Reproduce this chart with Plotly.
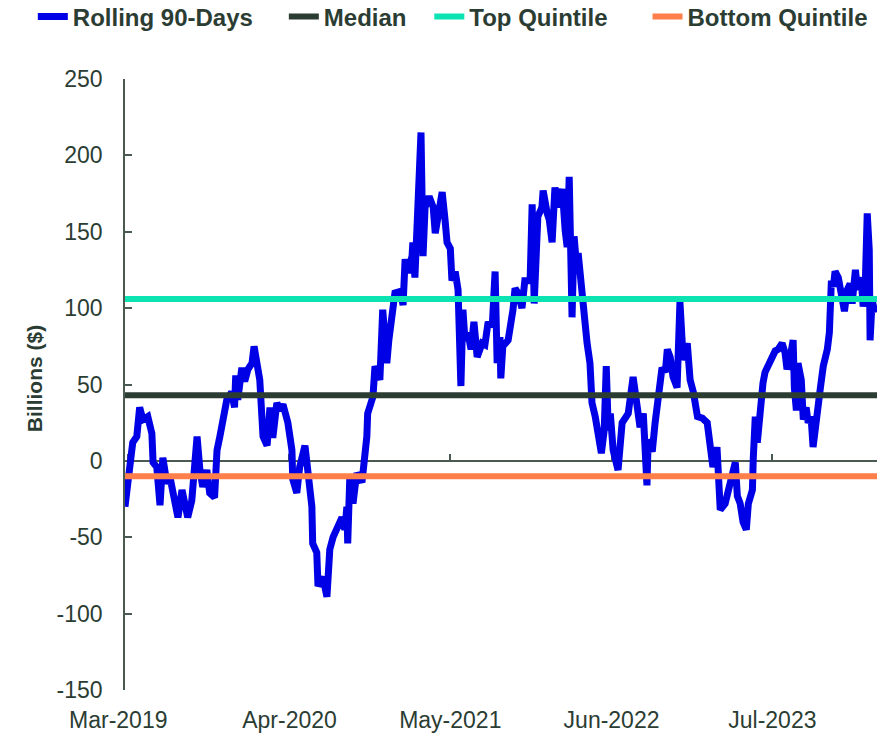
import plotly.graph_objects as go

# ------------------------------------------------------------
# Data ($ billions)
# ------------------------------------------------------------
dates = [
    "2019-02-22", "2019-03-01", "2019-03-06", "2019-03-13", "2019-03-23", "2019-03-30",
    "2019-04-07", "2019-04-19", "2019-04-29", "2019-05-02", "2019-05-11", "2019-05-19",
    "2019-05-26", "2019-06-05", "2019-06-12", "2019-06-20", "2019-07-02", "2019-07-12",
    "2019-07-19", "2019-07-26", "2019-08-05", "2019-08-13", "2019-08-18", "2019-08-25",
    "2019-09-01", "2019-09-11", "2019-09-18", "2019-09-30", "2019-10-06", "2019-10-13",
    "2019-10-20", "2019-10-30", "2019-11-11", "2019-11-18", "2019-11-21", "2019-11-26",
    "2019-12-06", "2019-12-13", "2019-12-21", "2019-12-31",
    "2020-01-05", "2020-01-12", "2020-01-19", "2020-01-27", "2020-02-06", "2020-02-13",
    "2020-02-20", "2020-03-01", "2020-03-08", "2020-03-16", "2020-03-28", "2020-04-07",
    "2020-04-09", "2020-04-19", "2020-04-26", "2020-05-09", "2020-05-16", "2020-05-26",
    "2020-05-28", "2020-06-07", "2020-06-10", "2020-06-22", "2020-07-02", "2020-07-09",
    "2020-07-17", "2020-07-29", "2020-08-08", "2020-08-15", "2020-08-20", "2020-08-22",
    "2020-08-27", "2020-09-04", "2020-09-13", "2020-09-26", "2020-10-03", "2020-10-08",
    "2020-10-10", "2020-10-23", "2020-10-28", "2020-11-09", "2020-11-16", "2020-11-26",
    "2020-12-01", "2020-12-09", "2020-12-16", "2020-12-29",
    "2021-01-05", "2021-01-10", "2021-01-17", "2021-01-27", "2021-01-29", "2021-02-03",
    "2021-02-08", "2021-02-10", "2021-02-18", "2021-02-23", "2021-02-28", "2021-03-10",
    "2021-03-20", "2021-03-25", "2021-04-01", "2021-04-11", "2021-04-18", "2021-04-23",
    "2021-05-01", "2021-05-05", "2021-05-13", "2021-05-20", "2021-05-27", "2021-06-01",
    "2021-06-06", "2021-06-13", "2021-06-21", "2021-06-28", "2021-07-06", "2021-07-18",
    "2021-07-25", "2021-08-02", "2021-08-12", "2021-08-19", "2021-08-24", "2021-08-31",
    "2021-09-02", "2021-09-07", "2021-09-20", "2021-09-25", "2021-10-02", "2021-10-07",
    "2021-10-14", "2021-10-24", "2021-10-31", "2021-11-13", "2021-11-18", "2021-11-23",
    "2021-11-30", "2021-12-02", "2021-12-12", "2021-12-15", "2021-12-25", "2021-12-30",
    "2022-01-06", "2022-01-13", "2022-01-21", "2022-01-31", "2022-02-07", "2022-02-12",
    "2022-02-17", "2022-02-24", "2022-03-01", "2022-03-08", "2022-03-11", "2022-03-21",
    "2022-03-28", "2022-04-02", "2022-04-09", "2022-04-14", "2022-04-22", "2022-04-29",
    "2022-05-07", "2022-05-14", "2022-05-19", "2022-05-24", "2022-05-29", "2022-06-05",
    "2022-06-17", "2022-06-27", "2022-07-04", "2022-07-12", "2022-07-24", "2022-08-03",
    "2022-08-10", "2022-08-18", "2022-08-22", "2022-08-27", "2022-08-30", "2022-09-09",
    "2022-09-16", "2022-09-23", "2022-10-03", "2022-10-11", "2022-10-16", "2022-10-23",
    "2022-10-30", "2022-11-09", "2022-11-11", "2022-11-16", "2022-11-24", "2022-12-04",
    "2022-12-11", "2022-12-19", "2022-12-29",
    "2023-01-10", "2023-01-22", "2023-01-30", "2023-02-05", "2023-02-15", "2023-02-23",
    "2023-03-07", "2023-03-14", "2023-03-24", "2023-04-01", "2023-04-06", "2023-04-13",
    "2023-04-20", "2023-04-28", "2023-05-03", "2023-05-13", "2023-05-15", "2023-05-20",
    "2023-05-25", "2023-06-01", "2023-06-08", "2023-06-13", "2023-06-21", "2023-07-01",
    "2023-07-08", "2023-07-15", "2023-07-25", "2023-08-01", "2023-08-06", "2023-08-14",
    "2023-08-21", "2023-08-24", "2023-08-29", "2023-09-02", "2023-09-10", "2023-09-15",
    "2023-09-22", "2023-09-27", "2023-10-04", "2023-10-09", "2023-10-14", "2023-10-22",
    "2023-10-27", "2023-11-03", "2023-11-13", "2023-11-18", "2023-11-23", "2023-11-28",
    "2023-12-02", "2023-12-10", "2023-12-20", "2023-12-25",
    "2024-01-01", "2024-01-08", "2024-01-13", "2024-01-21", "2024-01-26", "2024-02-04",
    "2024-02-09", "2024-02-14", "2024-02-19", "2024-02-24", "2024-02-26", "2024-03-02",
    "2024-03-09",
]

rolling_90d = [
    -30, -17, -1, 12, 16, 35,
    27, 29, 18, -1, -4, -29,
    2, -15, -10, -21, -37, -19,
    -30, -37, -26, -4, 16, -6,
    -17, -6, -21, -24, 7, 16,
    29, 40, 45, 35, 56, 40,
    61, 52, 60, 64,
    75, 63, 53, 16, 10, 35,
    15, 38, 33, 37, 25, 7,
    -12, -21, -4, 10, -6, -30,
    -54, -60, -82, -76, -89, -58,
    -50, -43, -37, -45, -30, -54,
    -12, -28, -8, -14, 1, 16,
    31, 42, 62, 53, 99, 64,
    79, 101, 110, 111,
    102, 132, 123, 134, 143, 120,
    160, 145, 215, 134, 166, 173,
    166, 149, 160, 176, 158, 143,
    139, 118, 124, 112, 49, 99,
    79, 84, 73, 91, 68, 77,
    76, 91, 88, 124, 64, 81,
    54, 75, 79, 86, 99, 113,
    110, 100, 118, 118, 168, 103,
    136, 160, 166, 177, 162, 158,
    143, 179, 166, 178, 151, 140,
    186, 94, 147, 125, 136, 110,
    81, 77, 64, 38, 29, 15,
    5, 20, 62, 20, 31, 7,
    -6, 25, 29, 31, 55, 38,
    22, 31, 9, -16, 14, 6,
    25, 42, 61, 58, 73, 68,
    55, 48, 60, 104, 66, 77,
    53, 45, 29,
    28, 25, 3, -4, 9, -32,
    -28, -21, -10, -1, -23, -28,
    -40, -45, -28, -19, 1, 29,
    12, 38, 51, 58, 62, 68,
    72, 73, 77, 71, 60, 68,
    79, 48, 33, 64, 53, 27,
    35, 25, 29, 9, 18, 33,
    48, 62, 73, 84, 118, 114,
    124, 120, 107, 98,
    112, 116, 103, 125, 112, 120,
    101, 114, 162, 138, 79, 105,
    97,
]

median_level = 43
top_quintile = 106
bottom_quintile = -10

x_range = ["2019-02-22", "2024-03-14"]
tick_dates = ["2019-03-01", "2020-04-01", "2021-05-01", "2022-06-01", "2023-07-01"]
tick_labels = ["Mar-2019", "Apr-2020", "May-2021", "Jun-2022", "Jul-2023"]
y_ticks = [-150, -100, -50, 0, 50, 100, 150, 200, 250]

# colours
BLUE = "#0000E6"
DARK = "#2B3D33"
TEAL = "#0BE3B3"
ORANGE = "#FF7F4A"
TEXT = "#2B3D33"
AXIS = "#4A5A50"
FONT = "Liberation Sans, Arial, sans-serif"

# first label sits a little left of its tick in the original (padding only)
x_ticktext = [tick_labels[0] + "\u00a0" * 3] + tick_labels[1:]

fig = go.Figure()

fig.add_trace(go.Scatter(
    x=dates, y=rolling_90d, mode="lines", name="Rolling 90-Days",
    line=dict(color=BLUE, width=7), legend="legend",
))

# horizontal reference levels, drawn across the full window
for name, level, colour, leg in [
    ("Median", median_level, DARK, "legend2"),
    ("Top Quintile", top_quintile, TEAL, "legend3"),
    ("Bottom Quintile", bottom_quintile, ORANGE, "legend4"),
]:
    fig.add_trace(go.Scatter(
        x=x_range, y=[level, level], mode="lines", name=name,
        line=dict(color=colour, width=6), legend=leg,
    ))

# one legend box per entry so the spacing matches the original
legend_style = dict(
    orientation="h", xref="container", yref="container",
    yanchor="middle", y=0.977, xanchor="left",
    font=dict(family=FONT, size=24, color=TEXT, weight="bold"),
    bgcolor="rgba(0,0,0,0)",
)

fig.update_layout(
    width=887, height=733,
    margin=dict(l=125, r=10, t=79, b=43, autoexpand=False),
    plot_bgcolor="white", paper_bgcolor="white",
    font=dict(family=FONT, color=TEXT),
    showlegend=True,
    legend=dict(legend_style, x=0.037),
    legend2=dict(legend_style, x=0.320),
    legend3=dict(legend_style, x=0.484),
    legend4=dict(legend_style, x=0.730),
    xaxis=dict(
        type="date", range=x_range,
        tickvals=tick_dates, ticktext=x_ticktext,
        showline=False, showgrid=False, zeroline=False, ticks="",
        tickfont=dict(size=23, color=TEXT),
        ticklabelstandoff=14, automargin=False,
    ),
    # axis drawn through y = 0 with small upward ticks (Excel style)
    xaxis2=dict(
        type="date", matches="x", overlaying="x", anchor="free", position=0.375,
        tickvals=tick_dates, showticklabels=False,
        showline=False, showgrid=False, zeroline=False,
        ticks="inside", ticklen=7, tickwidth=1.5, tickcolor=AXIS,
        layer="below traces",
    ),
    yaxis=dict(
        range=[-150, 250], tickvals=y_ticks, ticktext=[str(v) for v in y_ticks],
        showgrid=False, showline=True, linecolor=AXIS, linewidth=1.5,
        ticks="inside", ticklen=7, tickwidth=1.5, tickcolor=AXIS,
        zeroline=True, zerolinecolor=AXIS, zerolinewidth=1.5,
        tickfont=dict(size=23, color=TEXT), ticklabelstandoff=16,
        layer="below traces", automargin=False,
    ),
    annotations=[dict(
        text="Billions ($)", textangle=-90, showarrow=False,
        xref="paper", yref="paper", x=-0.12, y=0.51,
        xanchor="center", yanchor="middle",
        font=dict(size=21, color=TEXT, weight="bold"),
    )],
)

# invisible anchor trace so the overlay axis is rendered
fig.add_trace(go.Scatter(
    x=[tick_dates[0]], y=[0], xaxis="x2", mode="markers",
    marker=dict(opacity=0), showlegend=False, hoverinfo="skip",
))

fig.write_html(
    "out.html",
    config={"displayModeBar": False},
    post_script="document.body.style.margin = '0';",
)
